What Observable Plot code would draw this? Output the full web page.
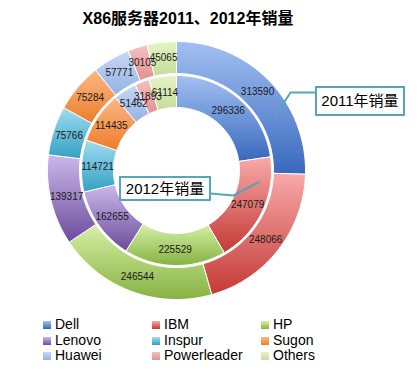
<!DOCTYPE html>
<html><head><meta charset="utf-8">
<script src="https://cdn.jsdelivr.net/npm/d3@7"></script>
<script src="https://cdn.jsdelivr.net/npm/@observablehq/plot@0.6"></script>
<style>
body{margin:0;background:#fff;}
#wrap{position:relative;width:418px;height:376px;overflow:hidden;font-family:"Liberation Sans",Arial,"Noto Sans CJK SC",sans-serif;color:#000;}
#title{position:absolute;left:0;top:10px;width:376px;text-align:center;font-weight:bold;font-size:16px;line-height:18px;font-family:"Liberation Sans",Arial,"Noto Sans CJK SC",sans-serif;}
#chart{position:absolute;left:0;top:0;}
.box{position:absolute;border:2px solid #55a6b6;background:#fff;font-size:15px;text-align:center;box-sizing:border-box;font-family:"Liberation Sans",Arial,"Noto Sans CJK SC",sans-serif;}
.leg{position:absolute;font-size:14px;line-height:16px;white-space:nowrap;}
.leg i{display:inline-block;width:8px;height:8px;margin-right:4px;vertical-align:0px;}
</style></head>
<body>
<div id="wrap">
  <div id="chart"></div>
  <div id="title">X86服务器2011、2012年销量</div>
</div>
<script>
const companies = ["Dell","IBM","HP","Lenovo","Inspur","Sugon","Huawei","Powerleader","Others"];
const sales2011 = [313590,248066,246544,139317,75766,75284,57771,30105,45065];
const sales2012 = [296336,247079,225529,162655,114721,114435,51462,31893,61114];
const seriesNames = ["2011年销量","2012年销量"];

// style: light / dark gradient stops per company
const lightCols = ["#a2c0f2","#f7aaa8","#d6f0a6","#cbb8ea","#9fdcf0","#fbb985","#c7d8f4","#f5c0c0","#e6f3c6"];
const darkCols  = ["#3868bd","#c43a36","#86b242","#6c4c9c","#33a0c2","#ee7c2a","#93b2e4","#e39090","#c4dd9a"];

const cx = 176, cy = 170;
const rings = [
  {values: sales2011, r0: 97, r1: 129, name: seriesNames[0]},
  {values: sales2012, r0: 63, r1: 95, name: seriesNames[1]}
];

const polys = [], labels = [];
rings.forEach((ring, ri) => {
  const arcs = d3.pie().sort(null).value(d => d)(ring.values);
  arcs.forEach((a, i) => {
    const key = ri + "-" + i;
    const n = Math.max(2, Math.ceil((a.endAngle - a.startAngle) * 180 / Math.PI));
    const pts = [];
    for (let k = 0; k <= n; k++) {
      const t = a.startAngle + (a.endAngle - a.startAngle) * k / n;
      pts.push({x: cx + ring.r1 * Math.sin(t), y: cy - ring.r1 * Math.cos(t)});
    }
    for (let k = n; k >= 0; k--) {
      const t = a.startAngle + (a.endAngle - a.startAngle) * k / n;
      pts.push({x: cx + ring.r0 * Math.sin(t), y: cy - ring.r0 * Math.cos(t)});
    }
    pts.push({...pts[0]});
    pts.forEach(p => polys.push({...p, key, company: companies[i]}));
    const m = (a.startAngle + a.endAngle) / 2, rm = (ring.r0 + ring.r1) / 2;
    labels.push({x: cx + rm * Math.sin(m), y: cy - rm * Math.cos(m), text: String(a.data)});
  });
});

// callout leader lines anchored in slices (Dell 2011 outer, IBM 2012 inner)
function polar(r, deg){ const t = deg*Math.PI/180; return {x: cx + r*Math.sin(t), y: cy - r*Math.cos(t)}; }
const a1 = polar(113, 61), a2 = polar(83, 98);
const leaders = [
  {key:"a", ...a1}, {key:"a", x: 290, y: 92}, {key:"a", x: 316, y: 92},
  {key:"b", ...a2}, {key:"b", x: 233, y: 195}, {key:"b", x: 210, y: 193}
];

const plot = Plot.plot({
  width: 418, height: 376, margin: 0,
  x: {domain: [0, 418], range: [0, 418], axis: null},
  y: {domain: [0, 376], range: [0, 376], axis: null},
  color: {domain: companies, range: companies.map(c => `url(#grad-${c})`)},
  style: {fontFamily: "Liberation Sans, Arial, sans-serif", background: "transparent"},
  marks: [
    Plot.line(polys, {x: "x", y: "y", z: "key", fill: "company", stroke: "#ffffff", strokeWidth: 1, curve: "linear"}),
    Plot.text(labels, {x: "x", y: "y", text: "text", fontSize: 10, fill: "#1a1a1a"}),
    Plot.line(leaders, {x: "x", y: "y", z: "key", stroke: "#55a6b6", strokeWidth: 2})
  ]
});

const defs = d3.select(plot).insert("defs", ":first-child");
companies.forEach((c, i) => {
  const g = defs.append("linearGradient").attr("id", "grad-" + c)
    .attr("x1", 0).attr("y1", 0).attr("x2", 0).attr("y2", 1);
  g.append("stop").attr("offset", "0%").attr("stop-color", lightCols[i]);
  g.append("stop").attr("offset", "100%").attr("stop-color", darkCols[i]);
});
document.getElementById("chart").appendChild(plot);

const wrap = document.getElementById("wrap");
// callout boxes
[[seriesNames[0], 315, 86, 90, 30], [seriesNames[1], 119, 176, 92, 25]].forEach(([t, l, tp, w, h]) => {
  const b = document.createElement("div");
  b.className = "box";
  b.style.left = l + "px"; b.style.top = tp + "px";
  b.style.width = w + "px"; b.style.height = h + "px";
  b.style.lineHeight = (h - 4) + "px";
  b.textContent = t;
  wrap.appendChild(b);
});
// legend
const colX = [43, 152, 261], rowY = [316, 332, 347];
companies.forEach((c, i) => {
  const d = document.createElement("div");
  d.className = "leg";
  d.style.left = colX[i % 3] + "px";
  d.style.top = rowY[Math.floor(i / 3)] + "px";
  d.innerHTML = `<i style="background:linear-gradient(${lightCols[i]},${darkCols[i]})"></i>${c}`;
  wrap.appendChild(d);
});
</script>
</body></html>
